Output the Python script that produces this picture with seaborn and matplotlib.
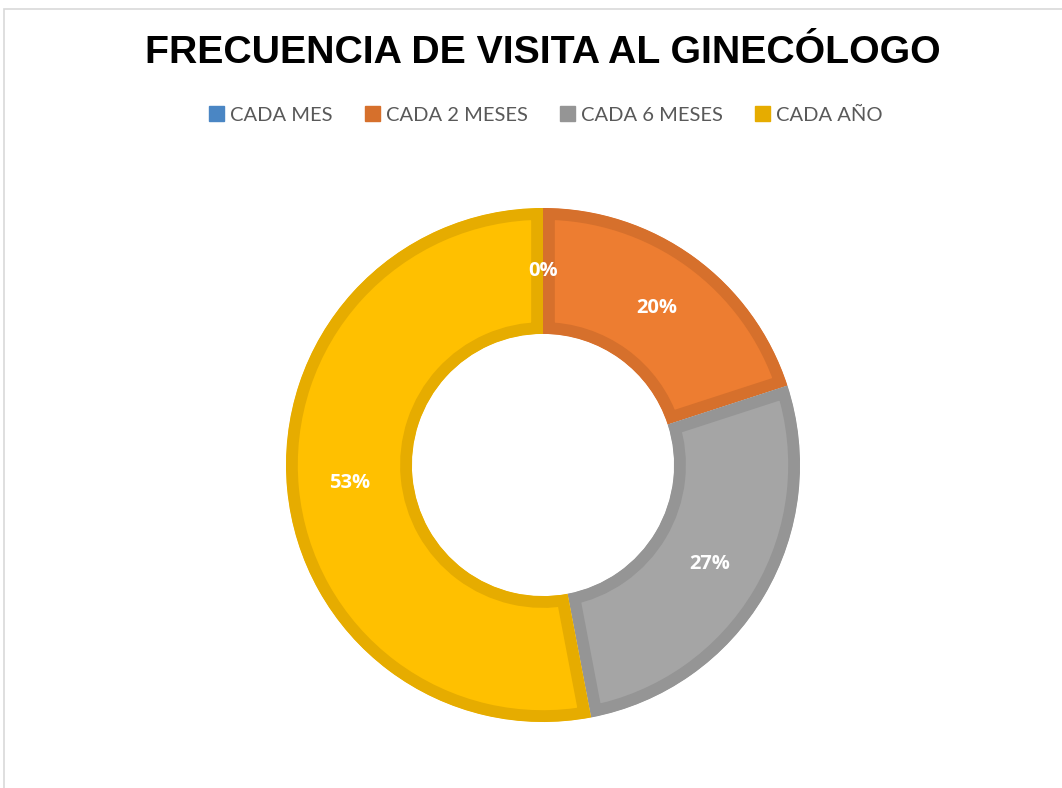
import matplotlib
matplotlib.use("Agg")
import matplotlib.pyplot as plt
import seaborn as sns
from matplotlib.patches import Rectangle, Patch

sns.set_theme(style="white")
plt.rcParams['font.family'] = ['Liberation Sans', 'DejaVu Sans']

# data
categories = ['CADA MES', 'CADA 2 MESES', 'CADA 6 MESES', 'CADA AÑO']
values = [0, 20, 27, 53]
pct_labels = ['0%', '20%', '27%', '53%']

fill_colors = ['#5B9BD5', '#ED7D31', '#A5A5A5', '#FFC000']
edge_colors = ['#4A86C4', '#D6702C', '#959595', '#E6AC00']

W, H = 1062, 788
fig = plt.figure(figsize=(W / 100, H / 100), dpi=100)

# light frame around the chart area (cut by the image edge on right/bottom)
fig.patches.append(Rectangle((4 / W, -0.05), 1.2, 1 - 9 / H + 0.05,
                             transform=fig.transFigure, fill=False,
                             edgecolor='#D9D9D9', linewidth=1.2))

# donut
cx, cy, r = 543, 788 - 465, 257
ax = fig.add_axes([(cx - r - 2) / W, (cy - r - 2) / H, (2 * r + 4) / W, (2 * r + 4) / H])
wedges, texts = ax.pie(values, colors=fill_colors, startangle=90, counterclock=False,
                       radius=1.0, labels=pct_labels, labeldistance=0.755,
                       wedgeprops=dict(width=0.49))
# darker border kept inside each slice: stroke clipped to the slice itself
for w, ec in zip(wedges, edge_colors):
    w.set_edgecolor(ec)
    w.set_linewidth(17)
    w.set_clip_path(w)
    w.set_clip_on(True)
for t in texts:
    t.set_color('white')
    t.set_fontweight('bold')
    t.set_fontsize(14.5)
    t.set_family(['Open Sans', 'DejaVu Sans'])
    t.set_ha('center')
    t.set_va('center')
lim = 1 + 2 / r
ax.set_xlim(-lim, lim)
ax.set_ylim(-lim, lim)
ax.set_aspect('equal')
ax.axis('off')

fig.text(543 / W, 1 - 53 / H, 'FRECUENCIA DE VISITA AL GINECÓLOGO',
         ha='center', va='center', fontsize=28.3, fontweight='bold', color='black')

handles = [Patch(facecolor=c, edgecolor=c) for c in edge_colors]
fig.legend(handles, categories, loc='center', bbox_to_anchor=(546 / W, 1 - 115 / H),
           ncol=4, frameon=False, handlelength=0.75, handleheight=0.75,
           handletextpad=0.3, columnspacing=1.6,
           prop={'family': ['Lato', 'DejaVu Sans'], 'size': 14.5},
           labelcolor='#595959')

fig.savefig('out.png', dpi=100, facecolor='white')
